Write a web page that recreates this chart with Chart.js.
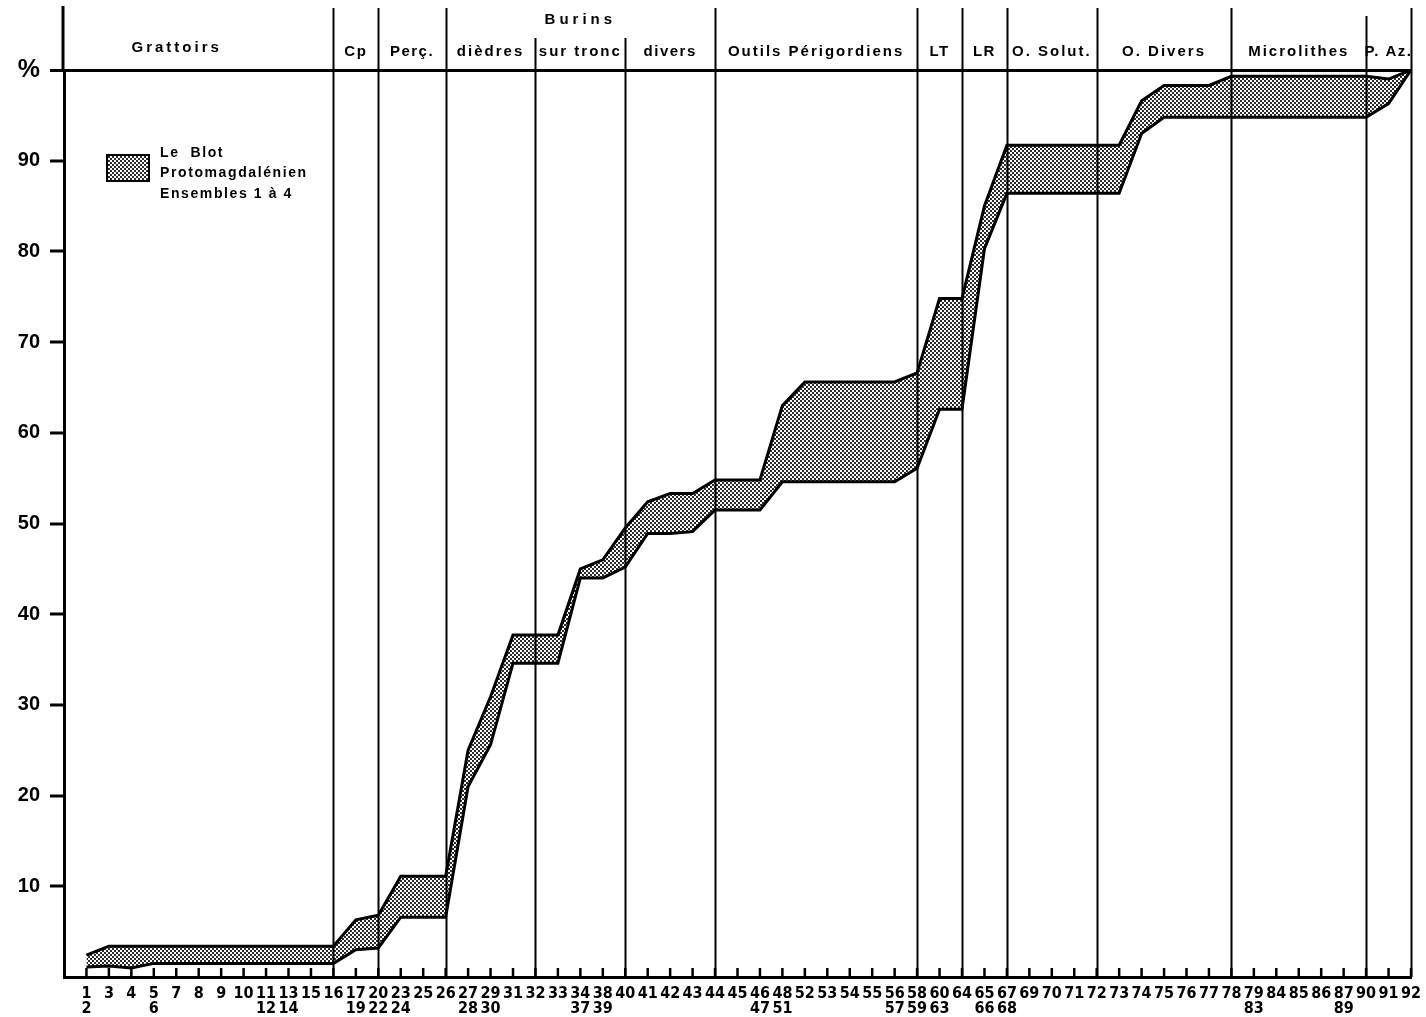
<!DOCTYPE html>
<html lang="fr">
<head>
    <meta charset="UTF-8" />
    <title>Le Blot - Protomagdalénien, diagramme cumulatif</title>
    <script src="https://cdn.jsdelivr.net/npm/chart.js"></script>
    <style>
        body {
            margin: 0;
            background-color: #fff;
        }

        .wrap {
            width: 1426px;
            height: 1017px;
        }
    </style>
</head>
<body>
    <div class="wrap"><canvas id="cumulChart"></canvas></div>

    <script>
        // types on the first label row, one per position on the axis
        const types = [1, 3, 4, 5, 7, 8, 9, 10, 11, 13, 15, 16, 17, 20, 23, 25, 26, 27, 29, 31,
            32, 33, 34, 38, 40, 41, 42, 43, 44, 45, 46, 48, 52, 53, 54, 55, 56, 58, 60, 64,
            65, 67, 69, 70, 71, 72, 73, 74, 75, 76, 77, 78, 79, 84, 85, 86, 87, 90, 91, 92];
        // types printed on the second row, under the one they share a position with
        const typesBelow = {1: 2, 5: 6, 11: 12, 13: 14, 17: 19, 20: 22, 23: 24, 27: 28, 29: 30,
            34: 37, 38: 39, 46: 47, 48: 51, 56: 57, 58: 59, 60: 63, 65: 66, 67: 68, 79: 83, 87: 89};

        // cumulative % - upper and lower edge of the band
        const upper = [2.4, 3.4, 3.4, 3.4, 3.4, 3.4, 3.4, 3.4, 3.4, 3.4, 3.4, 3.4, 6.3, 6.8, 11.1, 11.1, 11.1, 25.0, 30.9, 37.7,
            37.7, 37.7, 45.0, 46.0, 49.5, 52.4, 53.3, 53.3, 54.8, 54.8, 54.8, 63.0, 65.6, 65.6, 65.6, 65.6, 65.6, 66.6, 74.8, 74.8,
            85.0, 91.7, 91.7, 91.7, 91.7, 91.7, 91.7, 96.6, 98.3, 98.3, 98.3, 99.3, 99.3, 99.3, 99.3, 99.3, 99.3, 99.3, 99.0, 100];
        const lower = [1.1, 1.2, 1.0, 1.5, 1.5, 1.5, 1.5, 1.5, 1.5, 1.5, 1.5, 1.5, 3.0, 3.2, 6.6, 6.6, 6.6, 21.0, 25.6, 34.6,
            34.6, 34.6, 44.0, 44.0, 45.2, 48.9, 48.9, 49.1, 51.5, 51.5, 51.5, 54.6, 54.6, 54.6, 54.6, 54.6, 54.6, 56.1, 62.6, 62.6,
            80.3, 86.4, 86.4, 86.4, 86.4, 86.4, 86.4, 93.0, 94.8, 94.8, 94.8, 94.8, 94.8, 94.8, 94.8, 94.8, 94.8, 94.8, 96.3, 100];

        // groups of tools and the type closing each one
        const groupNames = ['Grattoirs', 'Cp', 'Perç.', 'dièdres', 'sur tronc', 'divers', 'Outils Périgordiens',
            'LT', 'LR', 'O. Solut.', 'O. Divers', 'Microlithes', 'P. Az.'];
        const groupEnds = [16, 20, 26, 32, 40, 44, 58, 64, 67, 72, 78, 90, 92];
        const burinsFrom = 26, burinsTo = 44;

        const legendLines = ['Le  Blot', 'Protomagdalénien', 'Ensembles 1 à 4'];

        // first slot is empty so that type 1 sits one step right of the axis
        const labels = [''].concat(types.map(t => typesBelow[t] ? [String(t), String(typesBelow[t])] : String(t)));
        const posOf = t => types.indexOf(t) + 1;

        // grey dotted screen like the print
        function makeScreen() {
            const c = document.createElement('canvas');
            c.width = 4; c.height = 4;
            const g = c.getContext('2d');
            g.fillStyle = '#fff';
            g.fillRect(0, 0, 4, 4);
            g.fillStyle = '#2a2a2a';
            g.fillRect(0, 0, 2, 2);
            g.fillRect(2, 2, 2, 2);
            return g.createPattern(c, 'repeat');
        }
        const screen = makeScreen();

        const FONT = "'Liberation Sans', Arial, sans-serif";
        const NARROW = "'Liberation Sans Narrow', 'DejaVu Sans Condensed', sans-serif";

        // separators, header, inner ticks, legend
        const frame = {
            id: 'frame',
            afterDatasetsDraw(chart) {
                const ctx = chart.ctx;
                const x = chart.scales.x;
                const area = chart.chartArea;
                ctx.save();
                ctx.strokeStyle = '#000';

                // small ticks pointing up from the axis
                ctx.lineWidth = 2.5;
                for (let i = 1; i < labels.length; i++) {
                    const px = x.getPixelForValue(i);
                    ctx.beginPath();
                    ctx.moveTo(px, area.bottom);
                    ctx.lineTo(px, area.bottom - 9);
                    ctx.stroke();
                }

                // vertical lines between groups
                ctx.lineWidth = 2;
                groupEnds.forEach(t => {
                    const px = Math.round(x.getPixelForValue(posOf(t))) + 0.5;
                    let top = 8;
                    if (t === 32 || t === 40) top = 38;
                    if (t === 90) top = 16;
                    ctx.beginPath();
                    ctx.moveTo(px, top);
                    ctx.lineTo(px, area.bottom);
                    ctx.stroke();
                });

                // y axis carried up into the header
                ctx.lineWidth = 3;
                ctx.beginPath();
                ctx.moveTo(area.left - 1, 6);
                ctx.lineTo(area.left - 1, area.top);
                ctx.stroke();

                // header texts
                ctx.fillStyle = '#000';
                ctx.textAlign = 'center';
                ctx.textBaseline = 'middle';
                ctx.font = 'bold 15px ' + FONT;
                let prev = area.left;
                groupEnds.forEach((t, k) => {
                    const px = x.getPixelForValue(posOf(t));
                    const name = groupNames[k];
                    ctx.letterSpacing = name.length > 6 ? '2px' : '1.5px';
                    if (k === 0) ctx.letterSpacing = '3px';
                    let cx = (prev + px) / 2;
                    if (k === 0) cx -= 22;
                    ctx.fillText(name, cx, k === 0 ? 48 : 52);
                    prev = px;
                });
                ctx.letterSpacing = '4px';
                const bx = (x.getPixelForValue(posOf(burinsFrom)) + x.getPixelForValue(posOf(burinsTo))) / 2;
                ctx.fillText('Burins', bx, 20);

                // legend
                const lx = 107, ly = 155;
                ctx.fillStyle = screen;
                ctx.fillRect(lx, ly, 42, 26);
                ctx.lineWidth = 2;
                ctx.strokeRect(lx, ly, 42, 26);
                ctx.fillStyle = '#000';
                ctx.textAlign = 'left';
                ctx.font = 'bold 14px ' + FONT;
                ctx.letterSpacing = '1.6px';
                legendLines.forEach((s, k) => ctx.fillText(s, 160, 153 + k * 20.5));
                ctx.restore();
            }
        };

        const ctx = document.getElementById('cumulChart').getContext('2d');
        new Chart(ctx, {
            type: 'line',
            data: {
                labels: labels,
                datasets: [
                    {
                        label: 'Le Blot - Protomagdalénien',
                        data: [null].concat(upper),
                        borderColor: '#000',
                        borderWidth: 3,
                        backgroundColor: screen,
                        fill: 1,
                        pointRadius: 0,
                        tension: 0,
                    },
                    {
                        label: 'lower',
                        data: [null].concat(lower),
                        borderColor: '#000',
                        borderWidth: 3,
                        fill: false,
                        pointRadius: 0,
                        tension: 0,
                    },
                ],
            },
            options: {
                responsive: true,
                maintainAspectRatio: false,
                animation: false,
                layout: {
                    padding: { top: 70, right: 15, left: 0, bottom: 0 },
                },
                plugins: {
                    legend: { display: false },
                    tooltip: { enabled: false },
                    filler: { drawTime: 'beforeDatasetsDraw' },
                },
                scales: {
                    x: {
                        type: 'category',
                        offset: false,
                        grid: { display: false, drawTicks: false },
                        border: { display: true, color: '#000', width: 3 },
                        ticks: {
                            autoSkip: false,
                            maxRotation: 0,
                            minRotation: 0,
                            padding: 9,
                            color: '#000',
                            font: { family: NARROW, size: 16, weight: 'bold', lineHeight: 0.95 },
                        },
                        afterFit(scale) {
                            scale.height = 40;
                            scale.paddingLeft = 0;
                            scale.paddingRight = 0;
                        },
                    },
                    y: {
                        min: 0,
                        max: 100,
                        grid: {
                            drawOnChartArea: true,
                            color: c => (c.tick && c.tick.value === 100 ? '#000' : 'rgba(0,0,0,0)'),
                            lineWidth: c => (c.tick && c.tick.value === 100 ? 3 : 0),
                            tickColor: c => (c.tick && c.tick.value === 0 ? 'rgba(0,0,0,0)' : '#000'),
                            tickWidth: 3,
                            tickLength: 14,
                        },
                        border: { display: true, color: '#000', width: 3 },
                        ticks: {
                            stepSize: 10,
                            padding: 10,
                            color: '#000',
                            callback: v => (v === 0 ? '' : v === 100 ? '%' : v),
                            font: c => ({
                                family: FONT,
                                size: c.tick && c.tick.value === 100 ? 25 : 20,
                                weight: 'bold',
                            }),
                        },
                        afterFit(scale) {
                            scale.width = 64;
                            scale.paddingTop = 0;
                            scale.paddingBottom = 0;
                        },
                    },
                },
            },
            plugins: [frame],
        });
    </script>
</body>
</html>
